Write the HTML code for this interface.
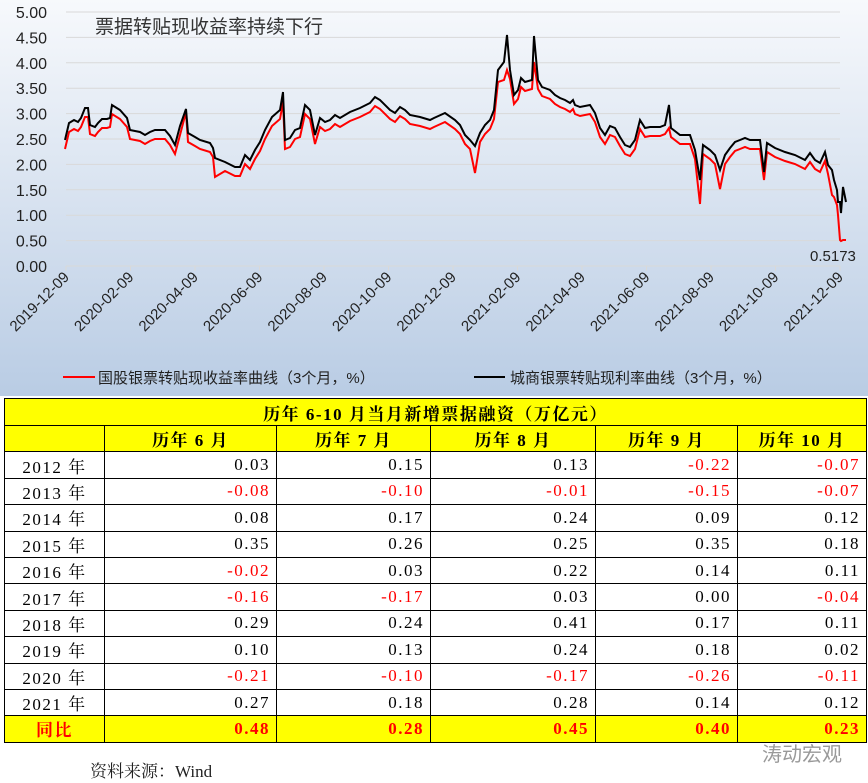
<!DOCTYPE html>
<html><head><meta charset="utf-8"><style>
body{margin:0;width:868px;height:783px;background:#fff;position:relative;overflow:hidden;font-family:"Liberation Sans","Noto Sans CJK SC",sans-serif}
#chart{position:absolute;left:0;top:0;width:868px;height:396px;background:linear-gradient(#f7f9fc,#b9cce4)}
table{position:absolute;left:4px;top:398px;border-collapse:collapse;font-family:"Liberation Serif","Noto Serif CJK SC",serif;font-size:17px}
td{border:1.5px solid #000;height:25.4px;padding:0 6px;text-align:right;letter-spacing:1.5px}
.y{background:#ff0;text-align:center;font-weight:bold}
.r{color:#f00}
.b td{background:#ff0;color:#f00;font-weight:bold}
</style></head><body>
<div id="chart"><svg width="868" height="396" style="position:absolute;left:0;top:0" font-family="Liberation Sans, Noto Sans CJK SC, sans-serif">
<g id="grid" stroke="#d9d9d9" stroke-width="1"></g>
<g id="ylab" font-size="16" fill="#222" text-anchor="end"></g>
<line x1="66" y1="266" x2="840" y2="266" stroke="#d9d9d9"/>
<g id="xt" stroke="#d9d9d9"></g>
<g id="xl" font-size="15" fill="#222" text-anchor="end"></g>
<text x="95" y="33" font-size="19" fill="#333">票据转贴现收益率持续下行</text>
<polyline id="red" fill="none" stroke="#f00" stroke-width="2"/>
<polyline id="blk" fill="none" stroke="#000" stroke-width="2"/>
<text x="810" y="261" font-size="15" fill="#222">0.5173</text>
<line x1="63" y1="377" x2="95" y2="377" stroke="#f00" stroke-width="2"/>
<text x="98" y="383" font-size="15" fill="#222">国股银票转贴现收益率曲线（3个月，%）</text>
<line x1="474" y1="377" x2="505" y2="377" stroke="#000" stroke-width="2"/>
<text x="510" y="383" font-size="15" fill="#222">城商银票转贴现利率曲线（3个月，%）</text>
</svg></div>
<table>
<tr><td colspan="6" class="y" style="height:26px">历年 6-10 月当月新增票据融资（万亿元）</td></tr>
<tr><td class="y" style="width:87px"></td><td class="y" style="width:159px">历年 6 月</td><td class="y" style="width:141px">历年 7 月</td><td class="y" style="width:152px">历年 8 月</td><td class="y" style="width:129px">历年 9 月</td><td class="y" style="width:116px">历年 10 月</td></tr>
<tr><td style="text-align:center">2012 年</td><td>0.03</td><td>0.15</td><td>0.13</td><td class="r">-0.22</td><td class="r">-0.07</td></tr>
<tr><td style="text-align:center">2013 年</td><td class="r">-0.08</td><td class="r">-0.10</td><td class="r">-0.01</td><td class="r">-0.15</td><td class="r">-0.07</td></tr>
<tr><td style="text-align:center">2014 年</td><td>0.08</td><td>0.17</td><td>0.24</td><td>0.09</td><td>0.12</td></tr>
<tr><td style="text-align:center">2015 年</td><td>0.35</td><td>0.26</td><td>0.25</td><td>0.35</td><td>0.18</td></tr>
<tr><td style="text-align:center">2016 年</td><td class="r">-0.02</td><td>0.03</td><td>0.22</td><td>0.14</td><td>0.11</td></tr>
<tr><td style="text-align:center">2017 年</td><td class="r">-0.16</td><td class="r">-0.17</td><td>0.03</td><td>0.00</td><td class="r">-0.04</td></tr>
<tr><td style="text-align:center">2018 年</td><td>0.29</td><td>0.24</td><td>0.41</td><td>0.17</td><td>0.11</td></tr>
<tr><td style="text-align:center">2019 年</td><td>0.10</td><td>0.13</td><td>0.24</td><td>0.18</td><td>0.02</td></tr>
<tr><td style="text-align:center">2020 年</td><td class="r">-0.21</td><td class="r">-0.10</td><td class="r">-0.17</td><td class="r">-0.26</td><td class="r">-0.11</td></tr>
<tr><td style="text-align:center">2021 年</td><td>0.27</td><td>0.18</td><td>0.28</td><td>0.14</td><td>0.12</td></tr>
<tr class="b"><td style="text-align:center">同比</td><td>0.48</td><td>0.28</td><td>0.45</td><td>0.40</td><td>0.23</td></tr>
</table>
<div style="position:absolute;left:762px;top:738px;font-size:20px;color:#999">涛动宏观</div>
<div style="position:absolute;left:90px;top:757px;font-size:17px;color:#222;font-family:'Liberation Serif','Noto Serif CJK SC',serif">资料来源：Wind</div>
<script>
var ns="http://www.w3.org/2000/svg";
function el(p,t,a,txt){var e=document.createElementNS(ns,t);for(var k in a)e.setAttribute(k,a[k]);if(txt)e.textContent=txt;document.getElementById(p).appendChild(e);}
for(var i=0;i<=10;i++){var y=266-i*25.4;if(i>0)el("grid","line",{x1:66,x2:840,y1:y,y2:y});el("ylab","text",{x:47,y:y+6},(i*0.5).toFixed(2));}
var labs=["2019-12-09","2020-02-09","2020-04-09","2020-06-09","2020-08-09","2020-10-09","2020-12-09","2021-02-09","2021-04-09","2021-06-09","2021-08-09","2021-10-09","2021-12-09"];
for(var i=0;i<13;i++){var x=66+i*64.5;el("xt","line",{x1:x,x2:x,y1:266,y2:271});el("xl","text",{x:x+4,y:278,transform:"rotate(-45 "+(x+4)+" 278)"},labs[i]);}
var B=[[65,140],[69,123],[74,120],[78,122],[81,118],[85,108],[88,108],[90,125],[95,127],[98,123],[102,119],[107,119],[110,118],[112,105],[120,110],[127,118],[130,130],[135,131],[140,132],[145,135],[150,132],[155,130],[160,130],[165,130],[170,136],[175,145],[180,126],[186,109],[188,133],[195,137],[200,140],[210,143],[213,148],[215,158],[225,162],[235,167],[240,167],[245,155],[250,160],[255,150],[260,142],[265,130],[272,117],[280,110],[283,92],[285,140],[290,138],[295,130],[300,128],[305,105],[310,110],[315,135],[320,118],[325,122],[330,120],[335,115],[340,118],[350,112],[360,108],[370,103],[375,97],[380,100],[390,110],[395,113],[400,107],[405,110],[410,115],[420,117],[430,120],[434,118],[445,113],[455,120],[460,125],[465,135],[470,140],[475,146],[480,133],[485,125],[490,120],[494,110],[498,70],[504,62],[507,35],[510,70],[514,95],[518,90],[521,78],[525,82],[532,80],[534,36],[538,80],[542,87],[550,90],[555,95],[560,98],[565,100],[570,103],[573,100],[575,105],[580,107],[590,105],[595,113],[600,128],[605,135],[610,126],[615,128],[620,137],[625,145],[630,147],[635,140],[640,120],[645,128],[650,127],[660,127],[665,125],[669,105],[671,128],[680,135],[690,135],[695,150],[700,180],[703,145],[710,150],[715,155],[720,170],[725,155],[730,148],[735,142],[740,140],[745,138],[750,140],[760,140],[764,172],[767,143],[775,148],[785,152],[795,155],[805,160],[810,153],[815,160],[820,163],[825,152],[828,165],[832,170],[834,180],[837,190],[838,202],[840,202],[841,213],[843,187],[846,202]];
var ov={215:177,475:173,700:204,720:189,764:180,832:195,834:197,837:205,838:215,840:240,841:241,843:240,846:240,186:112,283:102,507:70,534:62,669:128,498:82,504:80};
var R=B.map(function(p){var y=ov[p[0]]!==undefined?ov[p[0]]:p[1]+9;return p[0]+","+y;});
document.getElementById("blk").setAttribute("points",B.map(function(p){return p.join(",")}).join(" "));
document.getElementById("red").setAttribute("points",R.join(" "));
</script>
</body></html>
